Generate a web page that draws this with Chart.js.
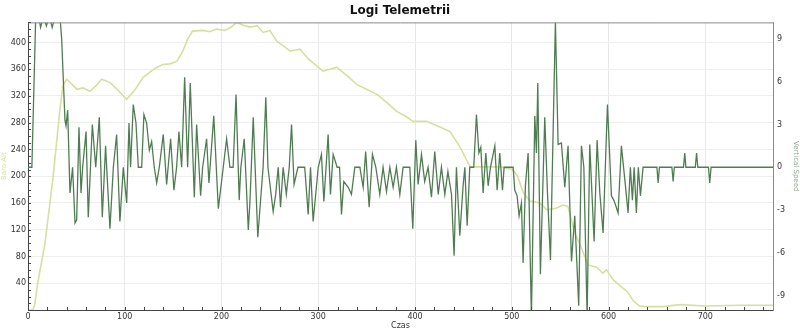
<!DOCTYPE html>
<html>
<head>
<meta charset="utf-8">
<title>Logi Telemetrii</title>
<script src="https://cdn.jsdelivr.net/npm/chart.js@4.4.0/dist/chart.umd.min.js"></script>
<style>
    html, body { margin: 0; padding: 0; background: #fff; }
</style>
</head>
<body>
<canvas id="telemetryChart" width="800" height="331"></canvas>
<script>
// Dane - Vertical Speed (oś prawa)
const vsTime = [
    0, 4, 8, 11, 13, 16, 19, 22, 25, 28, 31, 33, 34.8, 38.2, 39.3, 41, 43.4, 46.1, 48.6, 50.3, 52.7, 54.8, 56.5, 60,
    62.3, 66.5, 70, 73.7, 76.8, 80.2, 81.3, 84.7, 88.2, 91.6, 95, 98.5, 102, 104.4, 106, 108.8, 111.6, 114, 117.5, 119.8, 122.6, 125.4, 127.8, 130.5,
    133, 135.7, 139.8, 143.3, 147.4, 150.8, 153.6, 156, 158.8, 161.9, 165, 167.7, 171.9, 174.3, 178.4, 180.5, 184.6, 187, 192, 196.7, 201.8, 205.3, 208.7,
    212, 215, 218.3, 220, 223.5, 227.7, 229.4, 232.8, 237.5, 241.4, 243, 245.8, 248, 253.4, 256, 258.6, 261, 263.7, 267, 270, 272.4, 275, 279, 286, 289.6, 292, 294.7, 300,
    303.3, 305.8, 310.2, 312.6, 315.4, 319.5, 322, 324, 326.4, 331, 334.3, 337.8, 343, 346.4, 349, 352.6, 356, 359.5, 363.6, 367, 370.5, 374, 377.4, 380.8, 384.3, 387.7, 394.6, 397.7,
    400.8, 403.2, 406.7, 410, 413.5, 417, 420.4, 424, 427.3, 430.8, 434, 437.7, 440.4, 442.8, 446.3, 449.7, 451.5, 453.9, 456.6, 460.7, 463.5, 466, 468, 470.4, 473.2, 475.6, 478, 482.5, 484.9, 487.6, 490.4, 492.1, 501.4,
    503.1, 505.5, 507.6, 510, 511.7, 514.1, 516.9, 520.3, 523.8, 525.5, 526.9, 529.6, 534.1, 536.9, 540, 545.1, 547.9, 551.3, 554.8, 558.2, 561.7, 565.1, 569.2, 572, 574.5, 577.9, 580.6, 585.1, 588.2, 591, 594.4,
    598.9, 603, 605.4, 607.5, 609.9, 613.3, 617.5, 620.2, 622.6, 624.7, 626.5, 628.8, 630.8, 633, 635.7,
    650, 651.3, 652.6, 665.5, 666.8, 668, 677.5, 678.8, 680, 689.7, 691, 692.3, 703.3, 704.6, 706, 770
];
const vsValues = [
    0, 0, 10.6, 10.6, 9.8, 10.6, 9.9, 10.6, 9.8, 10.6, 10.6, 10.6, 9.0, 3.3, 2.9, 4.0, -1.8, 0, -3.9, -3.7, 2.8, -1.8, 0, 2.5,
    -3.5, 3.0, 0, 3.5, -3.5, 1.5, 0, -4.3, 0, 2.3, -3.8, 0, -2.5, 3.1, 0, 4.4, 3.1, 0, 0, 3.7, 3.1, 1.2, 1.8, 0,
    -1.1, 0, 2.3, -1.2, 2.0, -1.6, 0, 2.5, 0, 6.3, 0, 5.9, -2.1, 3.0, -2.0, 0, 2.0, -1.1, 3.6, -2.9, 0, 2.0, 0,
    0, 5.1, -2.3, 0, 2.0, -4.4, -2.4, 3.5, -4.9, -1.4, 0, 4.9, 0, -3.1, -1.9, 0, -2.8, 0, -1.9, 0, 3.0, -1.2, 0, 0, -3.3, 0, -3.8, 0,
    0.9, -2.4, 2.3, -1.9, 0.9, 0, 0, -3.3, -1.0, -1.4, -1.9, 0, 0, -1.4, 1.1, -2.8, 0.9, 0, -1.9, 0, -1.7, 0, -1.4, 0, -1.9, 0, 0, -4.3,
    1.9, -1.2, 0.9, -1.0, 0, -2.1, 1.1, -1.9, 0, -1.9, -0.3, -1.9, -6.2, 0, -4.8, -1.3, 0, -4.1, 0, 0, 3.7, 1.0, 1.4, -1.8, 1.0, -1.3, 0, 1.5, -1.6, 1.0, -1.6, 0, 0,
    -1.6, -2.0, -3.4, -2.5, -6.7, -1.3, 1.0, -10.5, 3.6, 1.0, 5.9, -7.5, 3.5, -1.8, -6.5, 10.2, 1.6, 1.7, -1.4, 1.5, -6.6, -3.4, -9.7, 1.5, 0, -10.5, 1.6, -5.2, 1.9, -1.8, -4.6,
    4.4, -2.0, -2.3, -2.7, -3.2, 1.5, -1.3, -3.2, 0, -2.3, 0, -3.2, 0, -2.0, 0,
    0, -1.1, 0, 0, -1.0, 0, 0, 1.0, 0, 0, 1.0, 0, 0, -1.1, 0, 0
];

// Dane - Baro Alt (oś lewa)
const altTime = [
    0, 5, 7, 10, 17.6, 26, 33, 36, 40, 45, 50.6, 57, 64, 70, 76, 85, 92, 102, 110, 119, 130, 139, 147, 154, 160, 165, 170,
    181, 188, 195, 203, 209, 216, 222, 229, 237, 243, 250, 257, 264, 271, 281, 290, 305, 312, 319, 330, 340, 350, 361, 371,
    381, 390, 398, 412, 425, 436, 446, 452, 457, 470, 488, 501, 506, 512, 519, 529, 536, 546, 553, 558, 565, 570, 579, 588,
    594, 598, 605, 612, 619, 626, 632, 640, 656, 674, 700, 736, 770
];
const altValues = [
    0, 0, 8, 40, 100, 200, 300, 335, 345, 338, 330, 332, 327, 335, 345, 340, 330, 315, 328, 348, 360, 367, 368, 372, 387, 405, 417,
    418, 416, 420, 418, 422, 430, 426, 423, 425, 415, 418, 402, 395, 387, 390, 375, 357, 360, 363, 350, 337, 330, 322, 310,
    297, 290, 282, 282, 274, 267, 245, 228, 214, 214, 214, 210, 200, 175, 163, 160, 150, 152, 157, 155, 115, 100, 67, 64,
    55, 60, 45, 36, 28, 13, 6, 5, 5, 8, 6, 7, 7
];

// Etykiety osi
const xTicks = Array.from({ length: 39 }, (_, i) => i * 20);
const altTicks = Array.from({ length: 44 }, (_, i) => i * 10);
const vsTicks = [-9, -6, -3, 0, 3, 6, 9];

const fontFamily = "'DejaVu Sans', Verdana, sans-serif";

// Ramka i kreski podziałki do środka wykresu
const framePlugin = {
    id: 'frame',
    afterDraw(chart) {
        const a = chart.chartArea;
        const c = chart.ctx;
        c.save();
        c.strokeStyle = '#8a8a8a';
        c.lineWidth = 1;
        c.beginPath();
        c.moveTo(a.left, a.top + 0.5);
        c.lineTo(a.right, a.top + 0.5);
        c.stroke();
        c.strokeStyle = '#444';
        c.beginPath();
        chart.scales.x.ticks.forEach(t => {
            const px = Math.round(chart.scales.x.getPixelForValue(t.value)) + 0.5;
            c.moveTo(px, a.bottom);
            c.lineTo(px, a.bottom - 3);
        });
        chart.scales.y.ticks.forEach(t => {
            const py = Math.round(chart.scales.y.getPixelForValue(t.value)) + 0.5;
            c.moveTo(a.left, py);
            c.lineTo(a.left + 3, py);
        });
        c.stroke();
        c.restore();
    }
};

const ctx = document.getElementById('telemetryChart').getContext('2d');
const chart = new Chart(ctx, {
    type: 'line',
    data: {
        datasets: [
            {
                label: 'Vertical Speed',
                data: vsTime.map((t, i) => ({ x: t, y: vsValues[i] })),
                yAxisID: 'y1',
                borderColor: '#4f7d51',
                borderWidth: 1.3,
                pointRadius: 0,
                tension: 0
            },
            {
                label: 'Baro Alt',
                data: altTime.map((t, i) => ({ x: t, y: altValues[i] })),
                yAxisID: 'y',
                borderColor: '#d6e09c',
                borderWidth: 1.6,
                pointRadius: 0,
                tension: 0
            }
        ]
    },
    options: {
        responsive: false,
        animation: false,
        layout: { padding: 0 },
        plugins: {
            legend: { display: false },
            tooltip: { enabled: false },
            title: {
                display: true,
                text: 'Logi Telemetrii',
                color: '#111',
                font: { family: fontFamily, size: 12, weight: 'bold' },
                padding: { top: 4, bottom: 4 }
            }
        },
        scales: {
            x: {
                type: 'linear',
                min: 0,
                max: 770,
                afterBuildTicks: s => { s.ticks = xTicks.map(v => ({ value: v })); },
                afterFit: s => { s.height = 21; },
                ticks: {
                    autoSkip: false,
                    maxRotation: 0,
                    padding: 2,
                    color: '#333',
                    font: { family: fontFamily, size: 8 },
                    callback: v => (v % 100 === 0 ? v : '')
                },
                grid: {
                    drawTicks: false,
                    color: c => (c.tick && c.tick.value % 100 === 0 ? '#e8e8e8' : 'rgba(0,0,0,0)')
                },
                border: { color: '#444' },
                title: {
                    display: true,
                    text: 'Czas',
                    color: '#333',
                    font: { family: fontFamily, size: 8 },
                    padding: 0
                }
            },
            y: {
                position: 'left',
                min: 0,
                max: 430,
                afterBuildTicks: s => { s.ticks = altTicks.map(v => ({ value: v })); },
                afterFit: s => { s.width = 28; },
                ticks: {
                    autoSkip: false,
                    padding: 2,
                    color: '#333',
                    font: { family: fontFamily, size: 8 },
                    callback: v => (v % 40 === 0 && v > 0 ? v : '')
                },
                grid: {
                    drawTicks: false,
                    color: c => (c.tick && c.tick.value % 40 === 0 ? '#eeeeee' : 'rgba(0,0,0,0)')
                },
                border: { color: '#444' },
                title: {
                    display: true,
                    text: 'Baro Alt',
                    color: '#d6e09c',
                    font: { family: fontFamily, size: 7 },
                    padding: 0
                }
            },
            y1: {
                position: 'right',
                min: -10,
                max: 10.15,
                afterBuildTicks: s => { s.ticks = vsTicks.map(v => ({ value: v })); },
                afterFit: s => { s.width = 27; },
                ticks: {
                    autoSkip: false,
                    padding: 4,
                    color: '#333',
                    font: { family: fontFamily, size: 8 }
                },
                grid: { drawTicks: false, drawOnChartArea: false },
                border: { color: '#8a8a8a' },
                title: {
                    display: true,
                    text: 'Vertical Speed',
                    color: '#8fa68f',
                    font: { family: fontFamily, size: 7 },
                    padding: 0
                }
            }
        }
    },
    plugins: [framePlugin]
});
</script>
</body>
</html>
